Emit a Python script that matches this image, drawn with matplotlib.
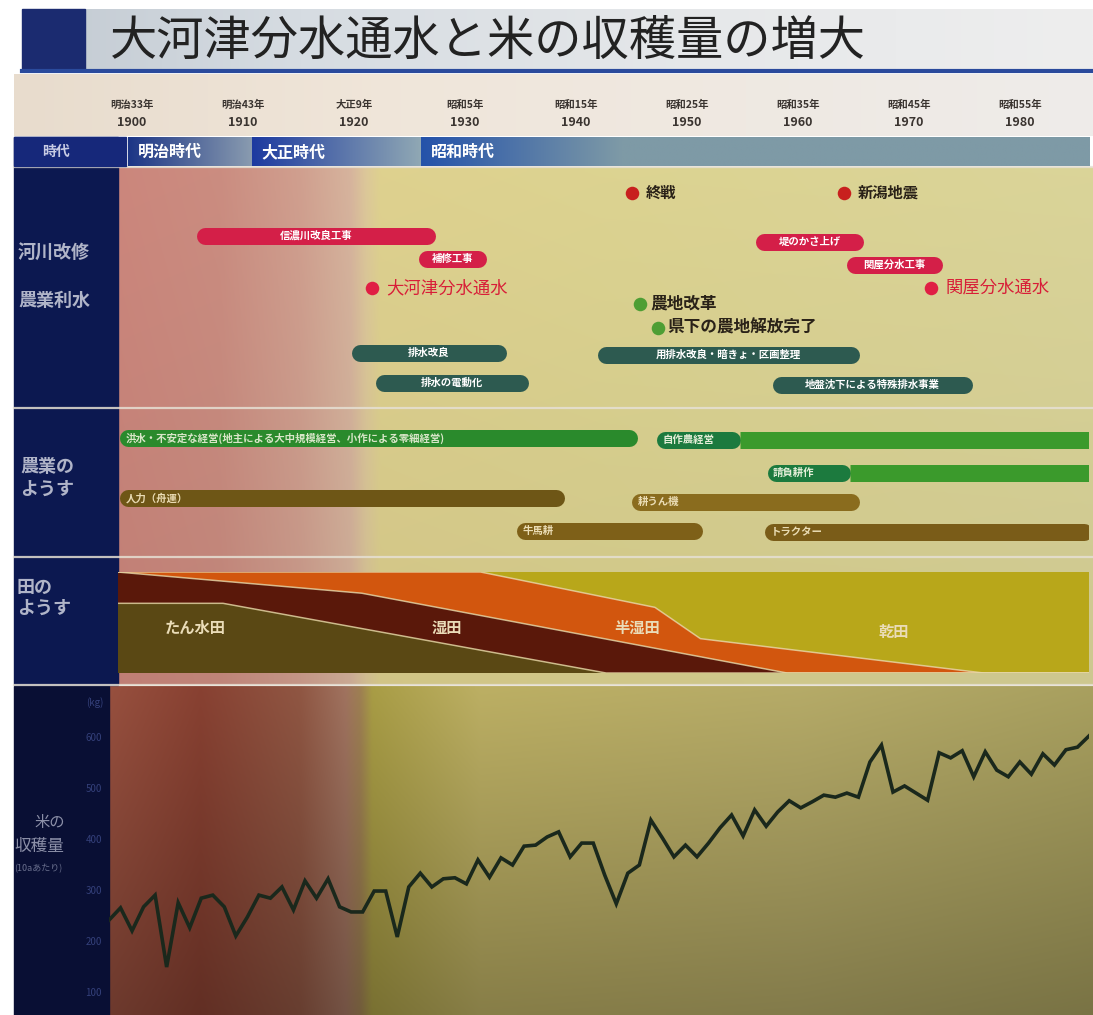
import numpy as np
import matplotlib.pyplot as plt
from matplotlib.colors import to_rgb

plt.rcParams['font.family'] = ['Noto Sans CJK JP', 'DejaVu Sans']

W, H = 1093, 1015

title = '大河津分水通水と米の収穫量の増大'

tick_years = [1900, 1910, 1920, 1930, 1940, 1950, 1960, 1970, 1980]
tick_eras = ['明治33年', '明治43年', '大正9年', '昭和5年', '昭和15年',
             '昭和25年', '昭和35年', '昭和45年', '昭和55年']

era_names = ['明治時代', '大正時代', '昭和時代']
era_start = [1899.6, 1910.8, 1926.0]
era_end = [1910.8, 1926.0, 1986.2]

# 河川改修・農業利水
river_names = ['信濃川改良工事', '補修工事', '堤のかさ上げ', '関屋分水工事']
river_start = [1905.8, 1925.8, 1956.2, 1964.4]
river_end = [1927.3, 1931.9, 1965.9, 1973.0]

drain_names = ['排水改良', '排水の電動化', '用排水改良・暗きょ・区画整理', '地盤沈下による特殊排水事業']
drain_start = [1919.8, 1921.9, 1941.9, 1957.7]
drain_end = [1933.7, 1935.7, 1965.5, 1975.7]

event_names = ['終戦', '新潟地震', '大河津分水通水', '関屋分水通水', '農地改革', '県下の農地解放完了']
event_years = [1945.0, 1964.1, 1921.6, 1972.0, 1945.8, 1947.4]

# 農業のようす
mgmt_names = ['洪水・不安定な経営(地主による大中規模経営、小作による零細経営)', '自作農経営', '請負耕作']
mgmt_start = [1898.9, 1947.2, 1957.2]
mgmt_dark_end = [None, 1954.8, 1964.7]
mgmt_end = [1945.5, 1986.5, 1986.5]

power_names = ['人力（舟運）', '耕うん機', '牛馬耕', 'トラクター']
power_start = [1898.9, 1945.0, 1934.6, 1957.0]
power_end = [1939.0, 1965.5, 1951.4, 1986.5]

# 田のようす (boundary years / cumulative share %)
field_names = ['たん水田', '湿田', '半湿田', '乾田']
tansui_years = [1898.7, 1908.2, 1942.7, 1986.2]
tansui_share = [69, 69, 0, 0]
shitsu_years = [1898.7, 1920.7, 1959.0, 1986.2]
shitsu_share = [100, 79, 0, 0]
han_years = [1898.7, 1931.4, 1947.1, 1951.2, 1976.7, 1986.2]
han_share = [100, 100, 65, 34, 0, 0]

# 米の収穫量 (kg / 10a)
rice_years = list(range(1900, 1986))
rice_kg = [241, 265, 220, 267, 290, 149, 275, 226, 284, 290,
           267, 210, 247, 290, 284, 306, 261, 318, 284, 322,
           267, 257, 257, 298, 298, 208, 306, 333, 306, 322,
           324, 312, 359, 325, 363, 349, 386, 388, 404, 414,
           365, 392, 392, 329, 273, 333, 349, 437, 402, 365,
           388, 365, 392, 422, 447, 406, 457, 425, 453, 475,
           461, 473, 486, 482, 490, 482, 551, 584, 492, 504,
           490, 476, 569, 559, 573, 522, 571, 535, 522, 551,
           527, 567, 545, 575, 580, 602]
rice_ticks = [100, 200, 300, 400, 500, 600]


def rect(x0, y0, x1, y1):
    return [x0 / W, 1 - y1 / H, (x1 - x0) / W, (y1 - y0) / H]


def hgrad(ax, xs, cols, extent, n=500, vshade=(1.0, 1.0), rows=60, **kw):
    xx = np.linspace(xs[0], xs[-1], n)
    rgb = np.array([to_rgb(c) for c in cols])
    line = np.stack([np.interp(xx, xs, rgb[:, k]) for k in range(3)], axis=-1)
    shade = np.linspace(vshade[0], vshade[1], rows)[:, None, None]
    img = np.clip(line[None, :, :] * shade, 0, 1)
    return ax.imshow(img, extent=extent, aspect='auto', interpolation='bilinear', **kw)


fig = plt.figure(figsize=(W / 100, H / 100), dpi=100)
fig.patch.set_facecolor('white')

bg = fig.add_axes([0, 0, 1, 1])
bg.axis('off')

# title band
hgrad(bg, [22, 300, 700, 1093], ['#c2cad2', '#d6dce2', '#e6e8ea', '#eeeeee'], (22, W, 70, 9), zorder=0)
bg.add_patch(plt.Rectangle((22, 9), 63, 60, color='#1b2b70', zorder=1))
bg.plot([22, W], [70.5, 70.5], color='#2a4a9c', lw=3, zorder=1)
bg.text(110, 42, title, fontsize=34, color='#222222', va='center', ha='left', zorder=2)

# tick band
hgrad(bg, [14, 400, 1093], ['#e8dccd', '#f0e6da', '#eeecea'], (14, W, 136, 74), zorder=0)

# label column + content backgrounds
bg.add_patch(plt.Rectangle((14, 137), 104, 548, color='#0c1850', zorder=1))
bg.add_patch(plt.Rectangle((14, 686), 95, 330, color='#090f34', zorder=1))
hgrad(bg, [118, 220, 300, 350, 366, 380, 600, 1093],
      ['#c8847a', '#c78a7e', '#cc9c8c', '#d2b09a', '#d8c496', '#dacd8c', '#d8cf8e', '#d6d096'],
      (118, 1093, 685, 167), vshade=(1.02, 0.96), zorder=0)
hgrad(bg, [109, 200, 300, 345, 360, 372, 480, 800, 1093],
      ['#8c4a3a', '#7e3c2e', '#85503e', '#946a58', '#92764c', '#9c9140', '#aea25c', '#a89e60', '#9c9458'],
      (109, 1093, 1015, 686), vshade=(1.08, 0.78), zorder=0)
for yy in [167, 408, 557, 685]:
    bg.plot([14, 1093], [yy, yy], color='#e6e0d4', lw=1.6, alpha=0.85, zorder=2)
bg.set_xlim(0, W)
bg.set_ylim(H, 0)

# row labels
lab_kw = dict(color='#b0b4c8', fontsize=13, fontweight='bold', va='center', ha='left', zorder=3)
bg.text(18, 253, '河川改修', **lab_kw)
bg.text(18, 300, '農業利水', **lab_kw)
bg.text(20, 478, '農業の\nようす', linespacing=1.2, **lab_kw)
bg.text(17, 598, '田の\nようす', linespacing=1.1, **lab_kw)
bg.text(34, 822, '米の', color='#8c90a8', fontsize=11, va='center', ha='left', zorder=3)
bg.text(14, 847, '収穫量', color='#8c90a8', fontsize=12, va='center', ha='left', zorder=3)
bg.text(14, 869, '(10aあたり)', color='#6a708e', fontsize=6.5, va='center', ha='left', zorder=3)

# timeline axes (x in years, y in pixel rows)
ax = fig.add_axes(rect(118, 74, 1089, 685))
ax.set_xlim(1898.74, 1986.2)
ax.set_ylim(685, 74)
ax.axis('off')
ax.patch.set_visible(False)
px_per_year = (1089 - 118) / (1986.2 - 1898.74)

for yr, era in zip(tick_years, tick_eras):
    ax.text(yr, 105, era, fontsize=7.5, fontweight='bold', color='#3a3430', ha='center', va='center')
    ax.text(yr, 122, str(yr), fontsize=9, fontweight='bold', color='#3a3430', ha='center', va='center')

# era row
bg.add_patch(plt.Rectangle((14, 137), 112, 29, color='#16287a', zorder=2))
bg.text(42, 152, '時代', color='#c8cce4', fontsize=10, fontweight='bold', va='center', zorder=3)
era_cols = [('#1c3586', '#8a9cb0'), ('#1d3aa0', '#90a8b4'), ('#2452aa', '#7e9aa6')]
for name, s, e, (c0, c1) in zip(era_names, era_start, era_end, era_cols):
    mid = min(e, s + 18)
    hgrad(ax, [s, mid, e], [c0, c1, c1], (s, e, 166, 137), rows=2, zorder=1)
    ax.text(s + 0.9, 152, name, color='white', fontsize=11.5, fontweight='bold',
            va='center', ha='left', zorder=2)
ax.set_xlim(1898.74, 1986.2)
ax.set_ylim(685, 74)


def bar(y, x0, x1, color, h=17, label=None, tcol='white', fs=7.5, align='center', cap='round'):
    r = h / 2 / px_per_year
    if cap == 'round':
        xs = [x0 + r, x1 - r]
    else:
        xs = [x0, x1]
    ax.plot(xs, [y, y], color=color, lw=h * 0.72, solid_capstyle=cap, zorder=3)
    if label:
        if align == 'center':
            ax.text((x0 + x1) / 2, y, label, color=tcol, fontsize=fs, fontweight='bold',
                    ha='center', va='center', zorder=4)
        else:
            ax.text(x0 + 0.55, y, label, color=tcol, fontsize=fs, fontweight='bold',
                    ha='left', va='center', zorder=4)


river_y = [236, 259, 242, 265]
for name, s, e, y in zip(river_names, river_start, river_end, river_y):
    bar(y, s, e, '#d41f48', label=name)

drain_y = [353, 383, 355, 385]
for name, s, e, y in zip(drain_names, drain_start, drain_end, drain_y):
    bar(y, s, e, '#2d5a50', label=name)

event_y = [193, 193, 288, 288, 304, 328]
event_dot = ['#c8201e', '#c8201e', '#e01e44', '#e01e44', '#4e9e34', '#4e9e34']
event_txt = ['#2a2218', '#2a2218', '#d81e38', '#d81e38', '#2a2218', '#2a2218']
event_fs = [11, 11, 12.5, 12.5, 12, 12]
for name, yr, y, dc, tc, fs in zip(event_names, event_years, event_y, event_dot, event_txt, event_fs):
    green = dc == '#4e9e34'
    ax.scatter([yr], [y], s=95, color=dc, zorder=5, linewidths=0)
    ax.text(yr + (0.85 if green else 1.3), y, name, color=tc, fontsize=fs,
            fontweight='bold' if green or fs < 12 else 'normal',
            ha='left', va='center', zorder=5)

mgmt_y = [438, 440, 473]
for name, s, de, e, y in zip(mgmt_names, mgmt_start, mgmt_dark_end, mgmt_end, mgmt_y):
    if de is None:
        bar(y, s, e, '#2a8a2c', label=name, tcol='#d8e6c8', fs=7.5, align='left')
    else:
        bar(y, s, de, '#1c7a3e')
        bar(y, de, e, '#3b9a2c', cap='butt')
        ax.text(s + 0.55, y, name, color='#e4eed8', fontsize=7.5, fontweight='bold',
                ha='left', va='center', zorder=4)

power_y = [498, 502, 531, 532]
power_col = ['#6e5616', '#8a6c1e', '#7e6018', '#7a5c18']
for name, s, e, y, c in zip(power_names, power_start, power_end, power_y, power_col):
    bar(y, s, e, c, label=name, tcol='#eadcb4', fs=7.5, align='left')

# 田のようす
axf = fig.add_axes(rect(118, 572, 1089, 673))
axf.set_xlim(1898.74, 1986.2)
axf.set_ylim(0, 100)
axf.axis('off')
axf.patch.set_visible(False)
x_left, x_right = tansui_years[0], tansui_years[-1]
axf.fill([x_left, x_right] + han_years[::-1], [100, 100] + han_share[::-1], color='#b8a71a', lw=0)
axf.fill(han_years + shitsu_years[::-1], han_share + shitsu_share[::-1], color='#d2560e', lw=0)
axf.fill(shitsu_years + tansui_years[::-1], shitsu_share + tansui_share[::-1], color='#5a180a', lw=0)
poly = axf.fill(tansui_years + [x_right, x_left], tansui_share + [0, 0], color='#5a4814', lw=0)[0]
g = hgrad(axf, [1898.7, 1920, 1945], ['#3a2810', '#5c4a16', '#7a6a1e'], (1898.7, 1945, 0, 100), rows=2)
g.set_clip_path(poly)
axf.set_xlim(1898.74, 1986.2)
axf.set_ylim(0, 100)
for yrs, sh in [(tansui_years, tansui_share), (shitsu_years, shitsu_share), (han_years, han_share)]:
    axf.plot(yrs, sh, color='#e8d8a8', lw=1.1, alpha=0.8)

field_x = [1905.7, 1928.4, 1945.5, 1968.6]
field_y = [45, 45, 45, 41]
for name, x, y in zip(field_names, field_x, field_y):
    axf.text(x, y, name, color='#eadcb8', fontsize=11, fontweight='bold', ha='center', va='center')

# 米の収穫量
axr = fig.add_axes(rect(109, 688, 1089, 1015))
axr.set_xlim(1900, 1985)
axr.set_ylim(55, 696)
axr.patch.set_visible(False)
for sp in axr.spines.values():
    sp.set_visible(False)
axr.plot(rice_years, rice_kg, color='#1a281c', lw=2.6, solid_joinstyle='miter')
axr.set_xticks([])
axr.set_yticks(rice_ticks)
axr.set_yticklabels([str(v) for v in rice_ticks])
axr.tick_params(axis='y', length=0, pad=5, labelsize=7, labelcolor='#34407a')
axr.text(-0.006, 667, '(kg)', transform=axr.get_yaxis_transform(), fontsize=7,
         color='#34407a', ha='right', va='center')

fig.savefig('out.png', dpi=100, facecolor=fig.get_facecolor())
